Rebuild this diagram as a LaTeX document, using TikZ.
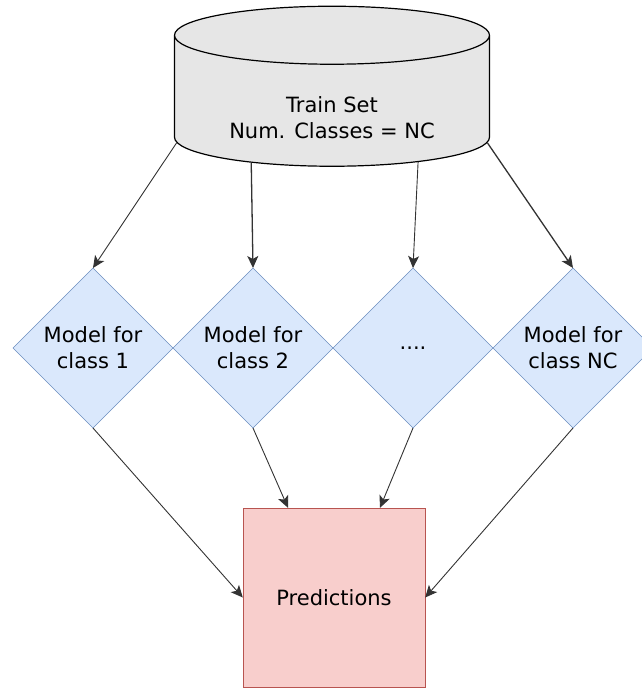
\documentclass[tikz,border=0pt]{standalone}
\usepackage{fontspec}
\setmainfont{DejaVu Sans}
\usetikzlibrary{shapes.geometric,arrows.meta}
\definecolor{dbfill}{HTML}{E6E6E6}
\definecolor{modelfill}{HTML}{DAE8FC}
\definecolor{modeldraw}{HTML}{6C8EBF}
\definecolor{predfill}{HTML}{F8CECC}
\definecolor{preddraw}{HTML}{B85450}

\begin{document}
\begin{tikzpicture}[x=1pt,y=-1pt,
  txt/.style={align=center,font=\fontsize{21}{26}\selectfont},
  model/.style={diamond,draw=modeldraw,fill=modelfill,minimum width=160pt,minimum height=160pt,inner sep=0pt,outer sep=0pt,txt},
  link/.style={-{Stealth[length=12pt,width=11pt,inset=3pt]},draw=black!80,line width=0.9pt}]
\useasboundingbox (0,0) rectangle (641,691);
\node[cylinder,shape border rotate=90,aspect=8.7,draw,line width=1.2pt,fill=dbfill,minimum width=315pt,minimum height=160pt,
  label={[txt,yshift=-14pt]center:Train Set\\Num. Classes = NC}] (trainset) at (332,104) {};
\node[model] (m1) at (93,348) {Model for\\class 1};
\node[model] (m2) at (253,348) {Model for\\class 2};
\node[model] (m3) at (413,348) {....};
\node[model] (m4) at (573,348) {Model for\\class NC};
\node[draw=preddraw,fill=predfill,minimum width=182pt,minimum height=179pt,txt] (pred) at (334,597.5) {Predictions};
% train set to the models
\draw[link] (trainset.194) -- (m1.north);
\draw[link,line width=1.3pt] (trainset.216) -- (m2.north);
\draw[link] (trainset.-34) -- (m3.north);
\draw[link,line width=1.3pt] (trainset.-14) -- (m4.north);
% models to predictions
\draw[link] (m1.south) -- (pred.west);
\draw[link] (m2.south) -- ([xshift=-46pt]pred.north);
\draw[link] (m3.south) -- ([xshift=46pt]pred.north);
\draw[link] (m4.south) -- (pred.east);
\end{tikzpicture}
\end{document}
